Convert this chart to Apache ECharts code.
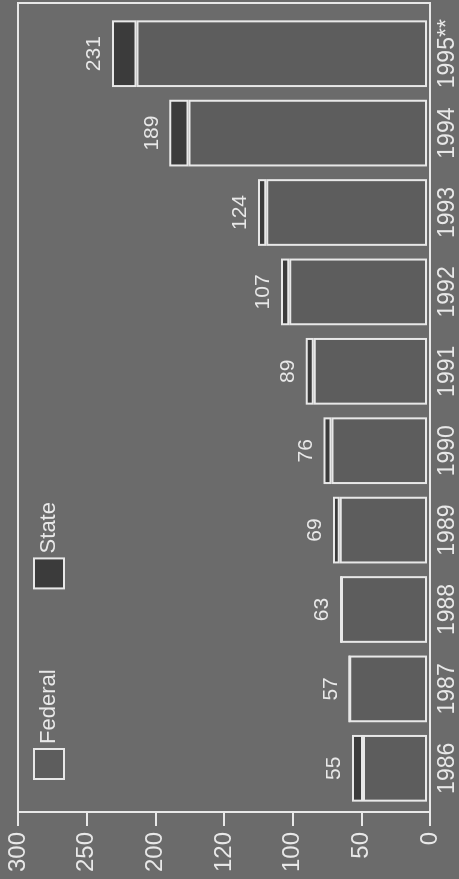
<!DOCTYPE html>
<html>
<head>
<meta charset="utf-8">
<title>Federal and State</title>
<script src="https://cdn.jsdelivr.net/npm/echarts@6/dist/echarts.min.js"></script>
<style>
  html, body { margin: 0; padding: 0; width: 459px; height: 879px; overflow: hidden; background: #6b6b6b; }
  /* chart is laid out the normal way, then turned a quarter turn to the left */
  #main { position: absolute; left: 0; top: 0; width: 879px; height: 459px;
          transform-origin: 0 0; transform: translateY(879px) rotate(-90deg); }
</style>
</head>
<body>
<div id="main"></div>
<script type="text/javascript">
var years = ['1986', '1987', '1988', '1989', '1990', '1991', '1992', '1993', '1994', '1995**'];
var federal = [47, 57, 63, 64, 70, 83, 101, 118, 175, 213];
var state = [8, 0, 0, 5, 6, 6, 6, 6, 14, 18];
var totals = [55, 57, 63, 69, 76, 89, 107, 124, 189, 231];
var tickValues = [0, 50, 100, 150, 200, 250, 300];
var tickLabels = ['0', '50', '100', '120', '200', '250', '300'];

var ink = '#e8e8e8';
var font = "'Liberation Sans', Arial, sans-serif";

var myChart = echarts.init(document.getElementById('main'));

var option = {
  backgroundColor: '#6b6b6b',
  animation: false,
  legend: {
    left: 94,
    top: 28,
    icon: 'rect',
    itemWidth: 30,
    itemHeight: 30,
    itemGap: 80,
    itemStyle: { borderColor: ink, borderWidth: 2 },
    textStyle: { color: ink, fontSize: 22, fontFamily: font },
    data: ['Federal', 'State']
  },
  grid: [
    { left: 67, right: 3, top: 18, bottom: 29, show: true, borderColor: ink, borderWidth: 2, backgroundColor: 'transparent' },
    { left: 71, right: 14, top: 18, bottom: 29 }
  ],
  xAxis: [
    { gridIndex: 0, type: 'category', data: years, show: false },
    {
      gridIndex: 1,
      type: 'category',
      data: years,
      axisLine: { show: false },
      axisTick: { show: false },
      axisLabel: { interval: 0, color: ink, fontSize: 23, fontFamily: font, margin: 9 }
    }
  ],
  yAxis: [
    {
      gridIndex: 0,
      type: 'value',
      min: 0,
      max: 300,
      interval: 50,
      splitLine: { show: false },
      axisLine: { show: true, lineStyle: { color: ink, width: 2 } },
      axisTick: { show: true, length: 14, lineStyle: { color: ink, width: 2 } },
      axisLabel: {
        color: ink,
        fontSize: 24,
        fontFamily: font,
        margin: 20,
        formatter: function (v) {
          return tickLabels[tickValues.indexOf(v)];
        }
      }
    },
    { gridIndex: 1, type: 'value', min: 0, max: 300, show: false }
  ],
  series: [
    {
      name: 'Federal',
      type: 'bar',
      stack: 'total',
      xAxisIndex: 1,
      yAxisIndex: 1,
      barCategoryGap: '16%',
      itemStyle: { color: '#5d5d5d', borderColor: ink, borderWidth: 2 },
      data: federal
    },
    {
      name: 'State',
      type: 'bar',
      stack: 'total',
      xAxisIndex: 1,
      yAxisIndex: 1,
      barCategoryGap: '16%',
      itemStyle: { color: '#3b3b3b', borderColor: ink, borderWidth: 2 },
      label: {
        show: true,
        position: 'top',
        distance: 7,
        color: ink,
        fontSize: 21,
        fontFamily: font,
        formatter: function (p) {
          return totals[p.dataIndex];
        }
      },
      data: state
    }
  ]
};

myChart.setOption(option);
</script>
</body>
</html>
